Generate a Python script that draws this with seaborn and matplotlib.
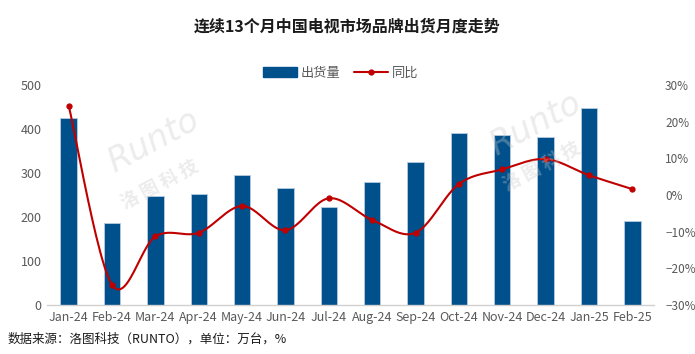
import numpy as np
import pandas as pd
import matplotlib
matplotlib.use("Agg")
import matplotlib.pyplot as plt
import seaborn as sns
from matplotlib.ticker import PercentFormatter
from matplotlib.lines import Line2D
from matplotlib.patches import Patch

months = ["Jan-24", "Feb-24", "Mar-24", "Apr-24", "May-24", "Jun-24", "Jul-24",
          "Aug-24", "Sep-24", "Oct-24", "Nov-24", "Dec-24", "Jan-25", "Feb-25"]
shipments = [424, 186, 248, 252, 295, 265, 222, 280, 324, 390, 386, 382, 447, 190]
yoy = [24.4, -24.5, -11.3, -10.3, -3.0, -9.6, -0.9, -6.8, -10.3, 3.0, 7.0, 9.8, 5.4, 1.6]

title = "连续13个月中国电视市场品牌出货月度走势"
source = "数据来源：洛图科技（RUNTO），单位：万台，%"

sns.set_theme(style="white")
plt.rcParams["font.family"] = ["Noto Sans CJK SC", "DejaVu Sans"]

BLUE = "#00508C"
RED = "#C00000"
GRAY = "#595959"

fig = plt.figure(figsize=(6.95, 3.54), dpi=100)
ax = fig.add_axes([47 / 695, 1 - 305 / 354, (654 - 47) / 695, 220 / 354])

df = pd.DataFrame({"month": months, "shipments": shipments})
sns.barplot(data=df, x="month", y="shipments", color=BLUE, width=0.38,
            edgecolor="#B8CCE0", linewidth=0.6, saturation=1, ax=ax)
ax.set_ylim(0, 500)
ax.set_yticks(range(0, 501, 100))
ax.set_xlim(-0.5, len(months) - 0.5)
ax.set_xlabel("")
ax.set_ylabel("")
for s in ["top", "right", "left"]:
    ax.spines[s].set_visible(False)
ax.spines["bottom"].set_color("#D0D0D0")
ax.spines["bottom"].set_linewidth(1)
ax.tick_params(axis="both", length=0, labelsize=9, colors=GRAY, pad=4)

ax2 = ax.twinx()
xs = np.arange(len(yoy), dtype=float)
ys = np.array(yoy, dtype=float) / 100.0


def catmull_rom(x, y, n=24):
    px, py = [], []
    N = len(x)
    for i in range(N - 1):
        i0, i3 = max(i - 1, 0), min(i + 2, N - 1)
        P0 = np.array([x[i0], y[i0]]); P1 = np.array([x[i], y[i]])
        P2 = np.array([x[i + 1], y[i + 1]]); P3 = np.array([x[i3], y[i3]])
        t = np.linspace(0, 1, n, endpoint=(i == N - 2))[:, None]
        pts = 0.5 * ((2 * P1) + (-P0 + P2) * t + (2 * P0 - 5 * P1 + 4 * P2 - P3) * t ** 2
                     + (-P0 + 3 * P1 - 3 * P2 + P3) * t ** 3)
        px.extend(pts[:, 0]); py.extend(pts[:, 1])
    return np.array(px), np.array(py)


sx, sy = catmull_rom(xs, ys)
ax2.plot(sx, sy, color=RED, lw=1.5, zorder=3)
ax2.plot(xs, ys, "o", color=RED, ms=3.5, zorder=4)
ax2.set_ylim(-0.3, 0.3)
ax2.set_yticks(np.arange(-0.3, 0.301, 0.1))
ax2.yaxis.set_major_formatter(PercentFormatter(1.0, decimals=0))
for s in ["top", "right", "left", "bottom"]:
    ax2.spines[s].set_visible(False)
ax2.tick_params(axis="y", length=0, labelsize=8.5, colors=GRAY, pad=8)
ax2.grid(False)
ax.grid(False)

# watermarks
for (wx, wy) in [(0.22, 0.55), (0.77, 0.6)]:
    fig.text(wx, wy + 0.05, "Runto", fontsize=24, style="italic", color="#C8C8C8",
             alpha=0.35, rotation=28, ha="center", va="center", family="DejaVu Sans")
    fig.text(wx + 0.01, wy - 0.07, "洛 图 科 技", fontsize=13, color="#C8C8C8",
             alpha=0.35, rotation=28, ha="center", va="center", weight="bold")

fig.text(0.5, 1 - 27 / 354, title, ha="center", va="center", fontsize=11.5,
         weight="bold", color="#1a1a1a")

handles = [Patch(facecolor=BLUE, edgecolor=BLUE),
           Line2D([0], [0], color=RED, lw=1.5, marker="o", ms=3.5)]
fig.legend(handles, ["出货量", "同比"], loc="center", bbox_to_anchor=(0.49, 1 - 73 / 354),
           ncol=2, frameon=False, fontsize=9.5, handlelength=2.6, handleheight=0.8,
           columnspacing=1.0, handletextpad=0.3, labelcolor=GRAY)

fig.text(8 / 695, 1 - 339 / 354, source, ha="left", va="center", fontsize=9, color="#1a1a1a")

fig.savefig("out.png", dpi=100)
